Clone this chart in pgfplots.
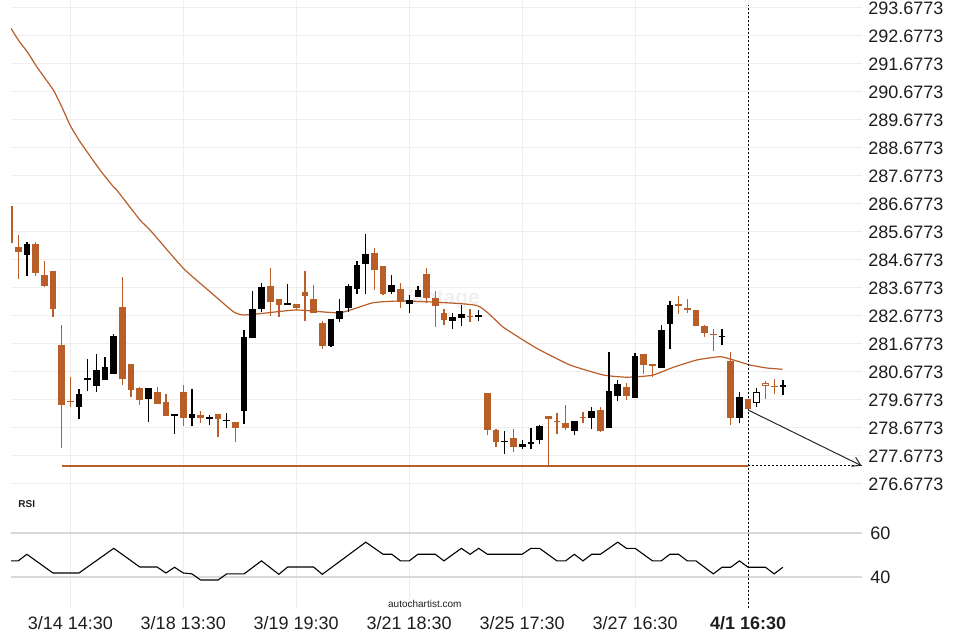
\documentclass[border=0pt]{standalone}
\usepackage{pgfplots}
\usepackage{pgfplotstable}
\pgfplotsset{compat=1.18}
\usepackage{fontspec}
\setmainfont{Liberation Sans}
\usetikzlibrary{arrows.meta}
\definecolor{orng}{RGB}{184,94,40}
\definecolor{gridc}{RGB}{238,238,238}
\definecolor{rsigrid}{RGB}{217,217,217}
\definecolor{txt}{RGB}{30,30,30}

% x top bot hi lo
\pgfplotstableread{
x top bot hi lo
0 286.606 285.274 286.606 285.274
1 285.142 284.974 285.570 283.988
3 285.249 284.224 285.309 284.095
4 284.142 283.759 284.652 283.724
5 284.284 282.917 284.284 282.652
6 281.642 279.509 282.345 277.952
7 279.641 279.606 280.509 279.417
13 282.999 280.427 284.059 280.202
14 280.963 280.045 280.963 279.774
15 280.106 279.677 280.152 279.488
17 279.963 279.545 280.152 279.545
18 279.606 279.106 279.892 279.106
20 279.963 279.045 280.202 278.738
22 279.141 279.045 279.284 278.856
24 279.177 279.009 279.177 278.345
26 278.892 278.688 278.892 278.177
30 283.749 283.167 284.381 282.677
31 283.284 283.081 283.284 282.631
33 283.106 282.963 283.106 282.881
34 283.534 283.381 284.274 282.509
35 283.284 282.795 283.785 282.795
36 282.427 281.617 282.509 281.488
42 284.927 284.331 285.095 283.606
43 284.463 283.474 284.463 283.417
45 283.642 283.177 283.845 282.974
48 284.177 283.320 284.381 283.152
49 283.320 283.034 283.559 282.274
50 282.784 282.545 282.938 282.367
53 282.677 282.652 282.938 282.463
55 279.927 278.617 279.927 278.438
56 278.606 278.177 278.641 278.016
58 278.320 278.009 278.652 277.809
62 279.106 278.988 279.106 277.331
63 278.927 278.902 279.202 278.452
64 278.845 278.688 279.488 278.606
66 279.070 279.024 279.238 278.845
68 279.320 278.570 279.427 278.545
71 280.141 279.820 280.274 279.677
73 281.320 280.917 281.320 280.617
74 280.952 280.902 280.952 280.509
77 283.106 283.024 283.392 282.760
78 282.963 282.902 283.274 282.795
79 282.892 282.331 282.892 282.331
80 282.320 282.081 282.356 281.917
81 282.045 282.024 282.202 281.427
83 281.070 279.045 281.392 278.774
85 279.713 279.367 279.713 279.367
88 280.177 280.152 280.438 279.881
}\orangecandles

\pgfplotstableread{
x top bot hi lo
2 285.249 284.867 285.309 284.095
8 279.892 279.438 280.060 278.988
9 280.452 280.391 281.131 279.988
10 280.749 280.188 281.309 279.952
11 280.845 280.391 281.202 280.391
12 281.963 280.617 282.034 280.617
16 280.106 279.724 280.106 278.892
19 279.177 279.116 279.177 278.452
21 279.177 279.045 280.060 278.738
23 279.070 279.009 279.141 278.774
25 278.974 278.938 279.202 278.677
27 281.927 279.274 282.167 278.809
28 282.927 281.902 283.559 281.902
29 283.713 282.938 283.845 282.820
32 283.141 283.081 283.820 283.081
37 282.559 281.606 282.559 281.581
38 282.856 282.581 283.295 282.463
39 283.749 282.974 283.820 282.820
40 284.499 283.652 284.652 283.463
41 284.892 284.524 285.595 283.463
44 283.785 283.545 284.131 283.452
46 283.249 283.095 283.417 282.795
47 283.606 283.345 283.749 283.345
51 282.631 282.509 282.774 282.224
52 282.749 282.617 283.070 282.331
54 282.724 282.631 282.902 282.488
57 278.224 278.189 278.581 277.749
59 278.106 277.988 278.238 277.927
60 278.177 278.117 278.666 277.927
61 278.749 278.259 278.774 278.106
65 278.927 278.581 278.927 278.417
67 279.284 279.045 279.438 278.631
69 279.999 278.688 281.392 278.667
70 280.238 279.831 280.391 279.652
72 281.249 279.760 281.345 279.760
75 282.177 280.809 282.345 280.809
76 283.070 282.402 283.224 281.488
82 281.974 281.952 282.213 281.631
84 279.774 279.045 279.952 278.845
89 280.202 280.152 280.391 279.845
}\blackcandles

\pgfplotstableread{
x top bot hi lo
86 279.952 279.559 280.095 279.438
}\hollowblack

\pgfplotstableread{
x top bot hi lo
87 280.274 280.188 280.356 279.702
}\holloworange

\pgfplotstableread{
x ma
0.175 292.952
1.015 292.534
2.166 292.059
3.133 291.581
5.043 290.749
6.010 290.153
6.965 289.499
8.116 288.902
10.418 287.892
11.949 287.295
12.340 287.177
15.022 286.106
16.172 285.749
20.005 284.381
23.077 283.545
25.759 282.831
26.910 282.713
29.212 282.774
33.056 282.892
38.039 282.795
41.871 283.152
45.715 283.213
53.771 283.052
56.833 282.274
60.677 281.524
64.510 280.927
68.342 280.570
71.035 280.491
73.947 280.559
76.398 280.845
79.091 281.106
81.773 281.223
83.304 281.106
85.225 280.927
87.147 280.820
88.943 280.774
}\matable

\pgfplotstableread{
x rsi
0 47.3
1 47.3
2 50.3
5 41.8
8 41.8
12 53.0
15 44.5
17 44.5
18 41.8
19 44.4
20 41.8
21 41.4
22 38.6
24 38.6
25 41.4
27 41.4
29 47.3
31 41.2
32 44.5
35 44.5
36 41.2
41 55.8
43 50.3
44 50.3
45 47.3
46 47.3
47 50.3
49 50.3
50 47.3
52 53.0
53 50.3
54 53.0
55 50.3
59 50.3
60 53.0
61 53.0
63 47.3
64 47.3
65 50.3
66 47.3
67 50.3
68 50.3
70 55.8
71 53.0
72 53.0
74 47.3
75 47.3
76 50.3
77 50.3
78 47.3
79 47.3
81 41.4
82 44.4
83 44.4
84 47.3
85 44.4
87 44.4
88 41.4
89 44.4
}\rsitable

\pgfplotsset{
  wicks/.style={draw=none, mark=none, forget plot,
    error bars/.cd, y dir=plus, y explicit, error mark=none,
    error bar style={draw=#1, line width=0.65pt}},
  bodies/.style={draw=none, mark=none, forget plot,
    error bars/.cd, y dir=plus, y explicit, error mark=none,
    error bar style={draw=#1, line width=3.35pt}},
}

\begin{document}
\begin{tikzpicture}
\path[use as bounding box] (0,0) rectangle (480pt,-320pt);
\begin{axis}[
  at={(5.5pt,0pt)}, anchor=north west,
  scale only axis, width=425.5pt, height=245pt,
  xmin=0.175, xmax=98.11, ymin=276.463, ymax=293.963,
  axis line style={draw=none}, major tick length=0pt,
  xtick={7,20,33,46,59,72,85}, xticklabels={},
  ytick={276.6773,277.6773,278.6773,279.6773,280.6773,281.6773,282.6773,283.6773,284.6773,285.6773,286.6773,287.6773,288.6773,289.6773,290.6773,291.6773,292.6773,293.6773},
  yticklabels={276.6773,277.6773,278.6773,279.6773,280.6773,281.6773,282.6773,283.6773,284.6773,285.6773,286.6773,287.6773,288.6773,289.6773,290.6773,291.6773,292.6773,293.6773},
  yticklabel pos=right,
  yticklabel style={anchor=west, inner sep=0pt, xshift=3pt, font=\fontsize{9}{10}\selectfont, text=txt},
  /pgf/number format/assume math mode=true,
  xmajorgrids, ymajorgrids,
  major grid style={gridc, line width=0.5pt},
]
% watermark
\node[text=gray!12, font=\fontsize{10.5}{12}\selectfont\bfseries] at (axis cs:49.5,283.25) {Vantage};
\node[text=orng!12, font=\fontsize{4}{5}\selectfont] at (axis cs:51.3,282.6) {P L U S};
% moving average
\addplot[orng, line width=0.6pt, smooth, tension=0.3, mark=none] table[x=x, y=ma] {\matable};
% vertical dashed marker
\addplot[black, line width=0.5pt, dash pattern=on 1pt off 1pt, mark=none] coordinates {(85,276.463) (85,293.785)};
% support line
\addplot[orng, line width=1.1pt, mark=none] coordinates {(6.08,277.32) (85,277.32)};
\addplot[black, line width=0.5pt, dash pattern=on 1pt off 1pt, mark=none] coordinates {(85,277.32) (98.11,277.32)};
% candles: wicks
\addplot[wicks=orng] table[x=x, y=lo, y error expr=\thisrow{hi}-\thisrow{lo}] {\orangecandles};
\addplot[wicks=black] table[x=x, y=lo, y error expr=\thisrow{hi}-\thisrow{lo}] {\blackcandles};
\addplot[wicks=black] table[x=x, y=lo, y error expr=\thisrow{hi}-\thisrow{lo}] {\hollowblack};
\addplot[wicks=orng] table[x=x, y=lo, y error expr=\thisrow{hi}-\thisrow{lo}] {\holloworange};
% candles: bodies
\addplot[bodies=orng] table[x=x, y=bot, y error expr=\thisrow{top}-\thisrow{bot}] {\orangecandles};
\addplot[bodies=black] table[x=x, y=bot, y error expr=\thisrow{top}-\thisrow{bot}] {\blackcandles};
\addplot[bodies=black] table[x=x, y=bot, y error expr=\thisrow{top}-\thisrow{bot}] {\hollowblack};
\addplot[bodies=orng] table[x=x, y=bot, y error expr=\thisrow{top}-\thisrow{bot}] {\holloworange};
\addplot[draw=none, mark=none, forget plot, error bars/.cd, y dir=plus, y explicit, error mark=none,
  error bar style={draw=white, line width=2.3pt}]
  table[x=x, y expr=\thisrow{bot}+0.035, y error expr=\thisrow{top}-\thisrow{bot}-0.07] {\hollowblack};
\addplot[draw=none, mark=none, forget plot, error bars/.cd, y dir=plus, y explicit, error mark=none,
  error bar style={draw=white, line width=2.3pt}]
  table[x=x, y expr=\thisrow{bot}+0.025, y error expr=\thisrow{top}-\thisrow{bot}-0.05] {\holloworange};
% forecast arrow
\addplot[black!85, line width=0.5pt, mark=none, -{Straight Barb[length=4pt,width=5pt]}] coordinates {(85,279.32) (98.05,277.33)};
\end{axis}

\begin{axis}[
  at={(5.5pt,-245pt)}, anchor=north west,
  scale only axis, width=425.5pt, height=59pt,
  xmin=0.175, xmax=98.11, ymin=25.9, ymax=79.5,
  axis line style={draw=none}, major tick length=0pt,
  xtick={7,20,33,46,59,72,85},
  xticklabels={3/14 14:30,3/18 13:30,3/19 19:30,3/21 18:30,3/25 17:30,3/27 16:30,\textbf{4/1 16:30}},
  xticklabel style={anchor=north, inner sep=0pt, yshift=-4pt, font=\fontsize{9}{10}\selectfont, text=txt},
  ytick={40,60}, yticklabels={40,60},
  yticklabel pos=right,
  yticklabel style={anchor=west, inner sep=0pt, xshift=4pt, font=\fontsize{9}{10}\selectfont, text=txt},
  /pgf/number format/assume math mode=true,
  xmajorgrids, ymajorgrids,
  x grid style={gridc, line width=0.5pt},
  y grid style={rsigrid, line width=0.6pt},
]
\addplot[black, line width=0.5pt, dash pattern=on 1pt off 1pt, mark=none] coordinates {(85,25.9) (85,79.5)};
\addplot[black, line width=0.55pt, mark=none] table[x=x, y=rsi] {\rsitable};
\node[anchor=west, inner sep=0pt, font=\fontsize{5}{6}\selectfont\bfseries, text=txt] at (axis cs:0.98,73.2) {RSI};
\node[inner sep=0pt, font=\fontsize{5}{6}\selectfont, text=txt] at (axis cs:47.8,27.7) {autochartist.com};
\end{axis}
\end{tikzpicture}
\end{document}
